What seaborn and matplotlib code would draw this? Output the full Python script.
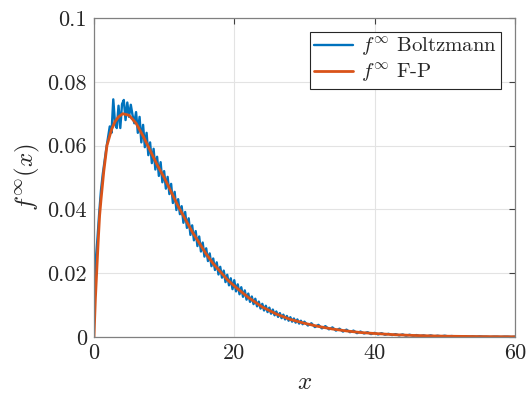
import numpy as np
import matplotlib
matplotlib.use("Agg")
import matplotlib.pyplot as plt
import seaborn as sns

# ---- data ----
fp_x = [0, 0.2, 0.4, 0.6, 0.8, 1.0, 1.4, 1.85, 2.5, 3.0, 3.5, 4.1, 5.0, 6.0, 7.0, 8.0,
        9.0, 10, 11, 12, 13, 14, 15, 16, 17, 18, 19, 20, 22, 24, 26, 28, 30, 32, 34,
        36, 38, 40, 43, 46, 50, 55, 60]
fp_y = [0, 0.012, 0.021, 0.030, 0.038, 0.043, 0.052, 0.060, 0.065, 0.0675, 0.069, 0.070,
        0.0695, 0.067, 0.063, 0.0585, 0.054, 0.050, 0.0455, 0.041, 0.037, 0.033, 0.0295,
        0.026, 0.023, 0.0205, 0.018, 0.016, 0.0124, 0.0094, 0.0072, 0.0055, 0.0043,
        0.0033, 0.0025, 0.0019, 0.0014, 0.0011, 0.0007, 0.00045, 0.00025, 0.00012, 0.00006]

bz_x = np.concatenate([np.arange(0, 30.001, 0.25), np.arange(30.5, 60.001, 0.5)])
bz_y = [
    # 0 .. 5.75
    0.0126, 0.024, 0.031, 0.039, 0.046, 0.051, 0.055, 0.059,
    0.0625, 0.066, 0.064, 0.0745, 0.067, 0.0655, 0.0725, 0.0655,
    0.073, 0.0743, 0.068, 0.0735, 0.069, 0.0728, 0.0695, 0.067,
    # 6.00 .. 30.00
    0.0705, 0.0640, 0.0690, 0.0610, 0.0665, 0.0595, 0.0640, 0.0570,
    0.0610, 0.0545, 0.0590, 0.0525, 0.0565, 0.0505, 0.0548, 0.0485,
    0.0520, 0.0465, 0.0502, 0.0448, 0.0480, 0.0420, 0.0455, 0.0398,
    0.0432, 0.0385, 0.0410, 0.0358, 0.0392, 0.0342, 0.0372, 0.0320,
    0.0350, 0.0303, 0.0332, 0.0285, 0.0315, 0.0268, 0.0296, 0.0252,
    0.0278, 0.0238, 0.0262, 0.0222, 0.0246, 0.0210, 0.0234, 0.0196,
    0.0220, 0.0186, 0.0208, 0.0172, 0.0195, 0.0162, 0.0184, 0.0150,
    0.0178, 0.0143, 0.0165, 0.0134, 0.0156, 0.0126, 0.0146, 0.0117,
    0.0136, 0.0110, 0.0127, 0.0103, 0.0120, 0.0096, 0.0111, 0.0089,
    0.0104, 0.0083, 0.0098, 0.0078, 0.0092, 0.0073, 0.0086, 0.0068,
    0.0080, 0.0063, 0.0075, 0.0059, 0.0070, 0.0055, 0.0066, 0.0051,
    0.0062, 0.0048, 0.0058, 0.0045, 0.0055, 0.0042, 0.0051, 0.0040,
    0.0048,
    # 30.5 .. 40
    0.0036, 0.0043, 0.0031, 0.0038, 0.0027, 0.0034, 0.0024, 0.0030,
    0.0020, 0.0026, 0.0017, 0.0023, 0.0015, 0.0020, 0.0012, 0.0017,
    0.0011, 0.0015, 0.0009, 0.0013,
    # 40.5 .. 50
    0.0008, 0.0012, 0.0007, 0.0010, 0.0006, 0.0009, 0.0005, 0.0008,
    0.0004, 0.0007, 0.0004, 0.0006, 0.0003, 0.0005, 0.0002, 0.0005,
    0.0002, 0.0004, 0.0002, 0.0004,
    # 50.5 .. 60
    0.0002, 0.0003, 0.0002, 0.0002, 0.0001, 0.0002, 0.0001, 0.0002,
    0.0001, 0.0002, 0.0001, 0.0001, 0.0000, 0.0001, 0.0001, 0.0000,
    0.0001, 0.0001, 0.0000, 0.0001,
]

x_ticks = [0, 20, 40, 60]
y_ticks = [0, 0.02, 0.04, 0.06, 0.08, 0.1]
y_tick_labels = ["0", "0.02", "0.04", "0.06", "0.08", "0.1"]

label_bz = r"$f^{\infty}$ Boltzmann"
label_fp = r"$f^{\infty}$ F-P"

# ---- style ----
sns.set_style("white")
plt.rcParams["font.family"] = ["cmr10", "DejaVu Serif"]
plt.rcParams["mathtext.fontset"] = "cm"
plt.rcParams["axes.unicode_minus"] = False

fig = plt.figure(figsize=(5.28, 3.98), dpi=100)
ax = fig.add_axes([0.178, 0.1533, 0.797, 0.8015])

sns.lineplot(x=bz_x, y=bz_y, ax=ax, color="#0072BD", lw=1.7, label=label_bz,
             estimator=None, sort=False)
sns.lineplot(x=fp_x, y=fp_y, ax=ax, color="#D95319", lw=2.0, label=label_fp,
             estimator=None, sort=False)

ax.set_xlim(0, 60)
ax.set_ylim(0, 0.1)
ax.set_xticks(x_ticks)
ax.set_xticklabels([str(t) for t in x_ticks])
ax.set_yticks(y_ticks)
ax.set_yticklabels(y_tick_labels)
ax.grid(True, color="#e3e3e3", lw=0.8)
ax.set_axisbelow(True)
for s in ax.spines.values():
    s.set_visible(True)
    s.set_color("#808080")
    s.set_linewidth(0.9)
ax.tick_params(direction="in", length=4, width=0.8, color="#404040",
               labelsize=16, top=True, right=True, labelcolor="#262626", pad=5)

ax.set_xlabel(r"$x$", fontsize=18, color="#262626", labelpad=6)
ax.set_ylabel(r"$f^{\infty}(x)$", fontsize=18, color="#262626", labelpad=4)

leg = ax.legend(loc="upper right", fontsize=15, frameon=True, fancybox=False,
                edgecolor="#262626", framealpha=1, handlelength=1.85,
                borderpad=0.2, labelspacing=0.12, handletextpad=0.4,
                borderaxespad=0.65)
leg.get_frame().set_linewidth(0.8)

fig.savefig("out.png", dpi=100)
